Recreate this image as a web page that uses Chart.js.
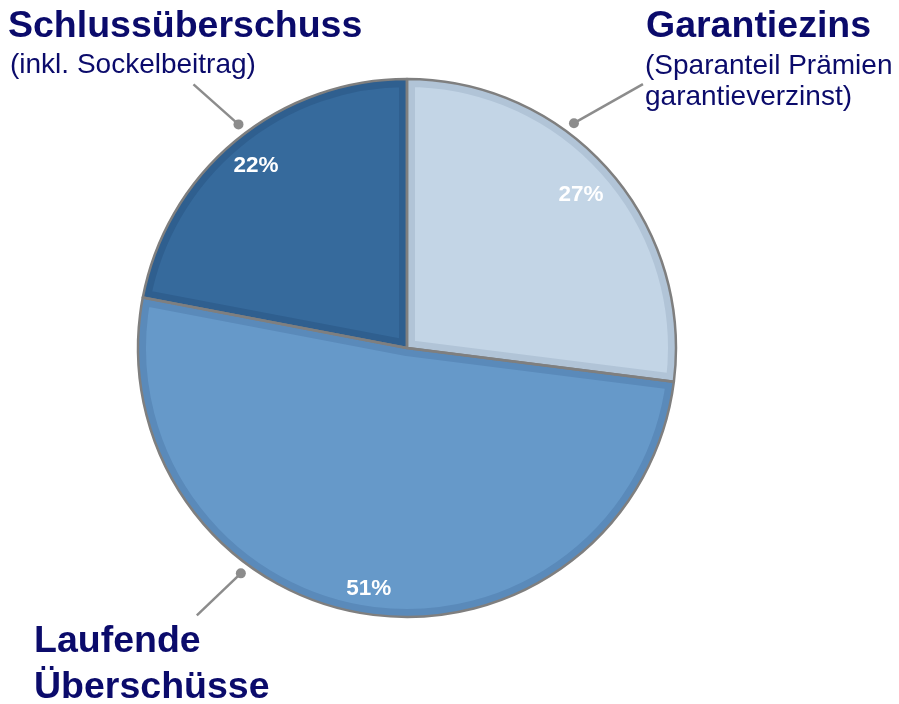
<!DOCTYPE html>
<html>
<head>
<meta charset="utf-8">
<script src="https://cdn.jsdelivr.net/npm/chart.js@4"></script>
<style>
  html, body { margin: 0; padding: 0; background: #fff; }
  #wrap { position: relative; width: 899px; height: 704px; overflow: hidden; }
  #c { position: absolute; left: 0; top: 0; }
  .t { position: absolute; font-family: "Liberation Sans", Arial, sans-serif; color: #0b0b6b; white-space: nowrap; }
  .big { font-size: 37.5px; line-height: 37.5px; font-weight: bold; }
  .small { font-size: 28px; line-height: 28px; }
</style>
</head>
<body>
<div id="wrap">
  <canvas id="c" width="899" height="704"></canvas>
  <div class="t big" style="left:8px; top:6px;">Schlussüberschuss</div>
  <div class="t small" style="left:10px; top:50px;">(inkl. Sockelbeitrag)</div>
  <div class="t big" style="left:646px; top:6px;">Garantiezins</div>
  <div class="t small" style="left:645px; top:51px;">(Sparanteil Prämien</div>
  <div class="t small" style="left:645px; top:82px;">garantieverzinst)</div>
  <div class="t big" style="left:34px; top:621px;">Laufende</div>
  <div class="t big" style="left:34px; top:667px;">Überschüsse</div>
</div>
<script>
const categories = ["Garantiezins", "Laufende Überschüsse", "Schlussüberschuss"];
const shares = [27, 51, 22];
const percentLabels = ["27%", "51%", "22%"];

const fills = ["#c3d5e6", "#6699c9", "#366a9c"];
const bands = ["#b1c4d7", "#5a8aba", "#2f5f8f"];
const outline = "#7f7f7f";
const labelRadiusFactor = [0.862, 0.907, 0.88];

// leader markers: angle (deg, clockwise from 12 o'clock), and line offset from dot
const leaders = [
  { angle: 36.6, dx: 69, dy: -39 },
  { angle: 216.4, dx: -44, dy: 42 },
  { angle: 323.0, dx: -45, dy: -40 }
];

const decorPlugin = {
  id: 'decor',
  afterDatasetsDraw(chart) {
    const ctx = chart.ctx;
    const meta = chart.getDatasetMeta(0);
    const arcs = meta.data.map(a => a.getProps(['x','y','startAngle','endAngle','outerRadius'], true));
    arcs.forEach((p, i) => {
      ctx.save();
      ctx.beginPath();
      ctx.moveTo(p.x, p.y);
      ctx.arc(p.x, p.y, p.outerRadius, p.startAngle, p.endAngle);
      ctx.closePath();
      ctx.clip();
      ctx.lineWidth = 16;
      ctx.lineJoin = 'miter';
      ctx.strokeStyle = bands[i];
      ctx.stroke();
      ctx.restore();
    });
    arcs.forEach((p) => {
      ctx.save();
      ctx.beginPath();
      ctx.moveTo(p.x, p.y);
      ctx.arc(p.x, p.y, p.outerRadius, p.startAngle, p.endAngle);
      ctx.closePath();
      ctx.lineWidth = 2.5;
      ctx.lineJoin = 'round';
      ctx.strokeStyle = outline;
      ctx.stroke();
      ctx.restore();
    });
    arcs.forEach((p, i) => {
      const mid = (p.startAngle + p.endAngle) / 2;
      const r = p.outerRadius * labelRadiusFactor[i];
      ctx.save();
      ctx.font = 'bold 22.5px "Liberation Sans", Arial, sans-serif';
      ctx.fillStyle = '#ffffff';
      ctx.textAlign = 'center';
      ctx.textBaseline = 'middle';
      ctx.fillText(percentLabels[i], p.x + Math.cos(mid) * r, p.y + Math.sin(mid) * r);
      ctx.restore();
    });
    const p0 = arcs[0];
    leaders.forEach(l => {
      const a = (l.angle - 90) * Math.PI / 180;
      const R = p0.outerRadius + 11;
      const dx = p0.x + Math.cos(a) * R, dy = p0.y + Math.sin(a) * R;
      ctx.save();
      ctx.strokeStyle = '#8c8c8c';
      ctx.fillStyle = '#8c8c8c';
      ctx.lineWidth = 2.5;
      ctx.beginPath();
      ctx.moveTo(dx, dy);
      ctx.lineTo(dx + l.dx, dy + l.dy);
      ctx.stroke();
      ctx.beginPath();
      ctx.arc(dx, dy, 5, 0, Math.PI * 2);
      ctx.fill();
      ctx.restore();
    });
  }
};

new Chart(document.getElementById('c'), {
  type: 'pie',
  data: {
    labels: categories,
    datasets: [{
      data: shares,
      backgroundColor: fills,
      borderWidth: 0
    }]
  },
  options: {
    responsive: false,
    animation: false,
    layout: { padding: { left: 138, top: 79, right: 223, bottom: 87 } },
    plugins: { legend: { display: false }, tooltip: { enabled: false } }
  },
  plugins: [decorPlugin]
});
</script>
</body>
</html>
